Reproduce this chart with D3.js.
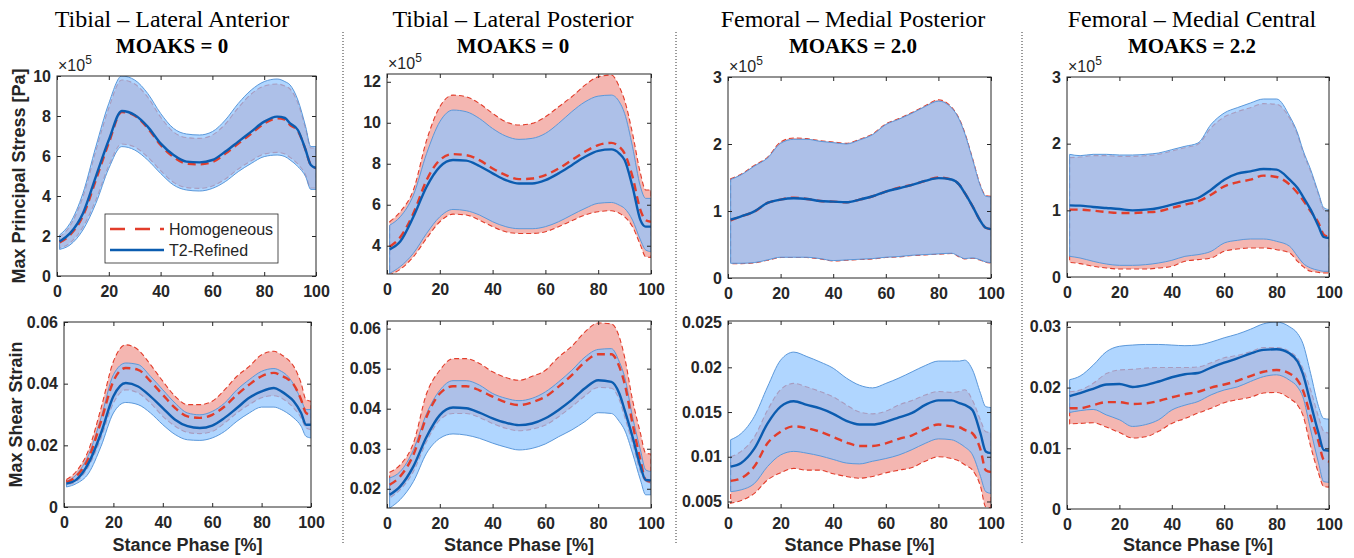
<!DOCTYPE html>
<html>
<head>
<meta charset="utf-8">
<script src="https://cdnjs.cloudflare.com/ajax/libs/d3/7.8.5/d3.min.js"></script>
<style>
  body { margin: 0; background: #fff; }
  svg text { font-family: "Liberation Sans", Arial, sans-serif; }
</style>
</head>
<body>
<svg id="fig" width="1354" height="558"></svg>
<script>
// stance phase sample points [%]
var stance = [1, 5, 10, 15, 20, 25, 30, 35, 40, 45, 50, 55, 60, 65, 70, 75, 80, 85, 88, 90, 93, 96, 98, 100];

// ---- Tibial lateral anterior : max principal stress (x1e5 Pa)
var tlaStressHomLo  = [1.4,1.65,2.45,3.8,5.52,6.6,6.45,5.95,5.27,4.68,4.42,4.38,4.5,4.85,5.35,5.76,6.1,6.18,6.1,5.93,5.6,5.05,4.4,4.4];
var tlaStressHomMean= [1.68,2.05,3.0,4.8,6.65,8.2,8.02,7.4,6.55,5.95,5.62,5.58,5.7,6.12,6.62,7.12,7.62,7.88,7.82,7.55,7.25,6.3,5.55,5.4];
var tlaStressHomHi  = [1.95,2.5,3.95,6.25,8.4,9.8,9.6,8.95,7.95,7.2,6.92,6.88,7.05,7.6,8.42,9.1,9.5,9.6,9.5,9.35,8.65,7.35,6.4,6.4];
var tlaStressT2Lo   = [1.33,1.55,2.3,3.63,5.38,6.47,6.3,5.8,5.13,4.55,4.3,4.25,4.38,4.72,5.22,5.63,5.97,6.05,5.97,5.8,5.47,4.97,4.33,4.33];
var tlaStressT2Mean = [1.72,2.13,3.13,4.97,6.8,8.25,8.05,7.47,6.63,6.05,5.72,5.68,5.8,6.22,6.72,7.22,7.72,7.97,7.9,7.63,7.3,6.3,5.55,5.4];
var tlaStressT2Hi   = [2.05,2.63,4.13,6.47,8.63,10.0,9.8,9.13,8.13,7.38,7.1,7.05,7.22,7.8,8.63,9.3,9.72,9.85,9.72,9.55,8.8,7.47,6.47,6.47];

// ---- Tibial lateral posterior : stress
var tlpStressHomLo  = [2.57,2.85,3.46,4.36,5.17,5.54,5.5,5.25,4.93,4.68,4.6,4.6,4.68,4.93,5.22,5.5,5.66,5.71,5.58,5.41,4.93,4.03,3.46,3.43];
var tlpStressHomMean= [3.95,4.41,5.58,7.2,8.18,8.47,8.42,8.18,7.77,7.45,7.25,7.28,7.45,7.77,8.18,8.59,8.91,9.02,8.83,8.5,7.37,5.74,5.25,5.17];
var tlpStressHomHi  = [5.17,5.66,6.72,9.15,10.78,11.35,11.27,10.94,10.46,10.05,9.89,9.97,10.29,10.78,11.27,11.84,12.24,12.33,11.76,11.1,9.48,7.53,6.72,6.72];
var tlpStressT2Lo   = [2.65,2.98,3.63,4.6,5.41,5.77,5.71,5.5,5.17,4.93,4.83,4.83,4.93,5.17,5.5,5.82,6.07,6.11,5.98,5.82,5.25,4.28,3.79,3.71];
var tlpStressT2Mean = [3.82,4.2,5.41,6.88,7.85,8.18,8.15,7.89,7.53,7.2,7.04,7.04,7.2,7.53,7.93,8.34,8.63,8.7,8.5,8.18,6.88,5.25,4.93,4.93];
var tlpStressT2Hi   = [5.0,5.41,6.47,8.5,10.05,10.62,10.54,10.21,9.72,9.35,9.19,9.24,9.48,9.97,10.54,11.02,11.3,11.35,11.02,10.46,8.83,6.88,6.31,6.31];

// ---- Femoral medial posterior : stress
var fmpStressHomLo  = [.215,.215,.225,.265,.305,.305,.305,.285,.255,.265,.275,.285,.305,.315,.335,.345,.355,.365,.315,.285,.295,.265,.235,.225];
var fmpStressHomMean= [.86,.92,.99,1.12,1.17,1.2,1.18,1.15,1.14,1.13,1.17,1.22,1.29,1.35,1.39,1.45,1.5,1.47,1.39,1.27,1.07,.85,.75,.73];
var fmpStressHomHi  = [1.48,1.55,1.68,1.8,2.03,2.09,2.08,2.05,2.03,2.01,2.07,2.15,2.3,2.38,2.47,2.57,2.66,2.55,2.37,2.17,1.78,1.38,1.23,1.22];
var fmpStressT2Lo   = [.22,.22,.23,.27,.31,.31,.31,.29,.26,.27,.28,.29,.31,.32,.34,.35,.36,.37,.32,.29,.3,.27,.24,.23];
var fmpStressT2Mean = [.87,.92,.995,1.12,1.17,1.19,1.18,1.15,1.14,1.13,1.17,1.22,1.29,1.34,1.39,1.45,1.49,1.47,1.39,1.27,1.07,.85,.75,.73];
var fmpStressT2Hi   = [1.47,1.54,1.67,1.79,2.01,2.07,2.07,2.04,2.02,2.0,2.06,2.14,2.29,2.37,2.46,2.56,2.64,2.54,2.36,2.16,1.77,1.37,1.22,1.21];

// ---- Femoral medial central : stress
var fmcStressHomLo  = [.22,.2,.16,.135,.12,.12,.12,.135,.16,.235,.26,.285,.385,.42,.435,.435,.41,.36,.235,.16,.085,.07,.06,.06];
var fmcStressHomMean= [1.01,1.01,.995,.975,.96,.96,.97,.985,1.035,1.085,1.135,1.235,1.36,1.42,1.46,1.52,1.5,1.385,1.26,1.16,.985,.81,.635,.6];
var fmcStressHomHi  = [1.79,1.8,1.82,1.82,1.81,1.81,1.82,1.84,1.89,1.94,1.99,2.24,2.4,2.48,2.54,2.6,2.59,2.38,2.13,1.88,1.58,1.23,1.01,.98];
var fmcStressT2Lo   = [.31,.285,.235,.195,.175,.175,.185,.21,.25,.31,.335,.385,.51,.55,.57,.57,.535,.46,.31,.21,.135,.1,.085,.085];
var fmcStressT2Mean = [1.075,1.07,1.05,1.035,1.02,1.0,1.01,1.035,1.085,1.135,1.185,1.31,1.46,1.55,1.585,1.62,1.61,1.46,1.335,1.21,1.01,.76,.6,.585];
var fmcStressT2Hi   = [1.84,1.82,1.84,1.84,1.83,1.83,1.84,1.86,1.91,1.96,2.01,2.29,2.46,2.54,2.61,2.67,2.67,2.41,2.16,1.91,1.61,1.26,1.04,1.01];

// ---- max shear strain
var tlaStrainHomLo  = [.0072,.0083,.0132,.0224,.0337,.038,.037,.0337,.0294,.0262,.0242,.0238,.0245,.0272,.0305,.0332,.0354,.0361,.0354,.0343,.0321,.0289,.0256,.0251];
var tlaStrainHomMean= [.008,.01,.0159,.0278,.0408,.0451,.0445,.0408,.0364,.0321,.0294,.0289,.0299,.0326,.0364,.0397,.0424,.0435,.0426,.0418,.0397,.0348,.0305,.0299];
var tlaStrainHomHi  = [.0089,.0116,.0186,.0321,.0472,.0526,.051,.0462,.0408,.0359,.0332,.0332,.0343,.038,.0424,.0456,.0494,.0505,.0494,.0483,.0456,.0402,.0348,.0343];
var tlaStrainT2Lo   = [.0065,.0076,.011,.0197,.0305,.0339,.0332,.0305,.0267,.0235,.0218,.0216,.0224,.0245,.0278,.0305,.0324,.0324,.0316,.0307,.0289,.0262,.0229,.0224];
var tlaStrainT2Mean = [.0076,.0089,.0143,.024,.0359,.0402,.0391,.0359,.0321,.0283,.0262,.0256,.0264,.0289,.0321,.0354,.0375,.0386,.0375,.0364,.0343,.0305,.0267,.0267];
var tlaStrainT2Hi   = [.0083,.0105,.017,.0289,.0429,.0467,.0462,.0424,.038,.0337,.0305,.0299,.031,.0337,.038,.0413,.044,.0449,.044,.0429,.0397,.0348,.0316,.0316];

var tlpStrainHomLo  = [.0177,.0198,.0243,.0318,.0372,.0388,.0388,.0378,.0363,.0351,.0345,.0349,.0359,.038,.0405,.0432,.0453,.0451,.0422,.038,.0314,.0243,.0218,.0214];
var tlpStrainHomMean= [.021,.0231,.0285,.038,.0438,.0456,.0456,.0446,.043,.0416,.0409,.0416,.043,.0455,.0484,.0517,.0536,.0536,.0505,.0463,.0363,.0272,.0222,.0218];
var tlpStrainHomHi  = [.0241,.026,.0314,.0438,.0496,.0525,.0525,.0513,.0492,.0478,.0471,.0481,.0496,.0529,.0556,.0592,.0614,.0612,.0579,.0529,.0422,.0339,.0289,.0287];
var tlpStrainT2Lo   = [.0152,.0173,.0218,.0289,.0326,.0337,.0334,.0326,.0314,.0304,.0297,.0301,.0312,.033,.0347,.0368,.039,.0388,.0368,.0347,.0289,.0222,.0185,.0185];
var tlpStrainT2Mean = [.0185,.0206,.0256,.033,.0384,.0403,.0401,.039,.0376,.0365,.0359,.0363,.0376,.0397,.0422,.0451,.0471,.0467,.0438,.0397,.033,.0256,.0222,.0221];
var tlpStrainT2Hi   = [.0227,.0243,.0297,.0388,.0446,.047,.047,.0459,.0438,.0426,.042,.0426,.0442,.0467,.0496,.0529,.0548,.055,.0517,.048,.038,.0297,.0247,.0243];

var fmpStrainHomLo  = [.0048,.0051,.0059,.0074,.0082,.0087,.0085,.0085,.0081,.0078,.0076,.0078,.0082,.0085,.0088,.0095,.01,.0098,.0095,.0091,.0085,.0067,.0044,.0043];
var fmpStrainHomMean= [.0073,.0076,.0089,.0115,.0128,.0134,.0132,.0128,.0122,.0116,.0112,.0112,.0115,.012,.0124,.0131,.0136,.0134,.0133,.013,.0126,.0108,.0085,.0083];
var fmpStrainHomHi  = [.01,.0106,.0122,.0152,.0175,.0182,.0178,.0173,.0167,.0158,.015,.0148,.0151,.0158,.0163,.0169,.0173,.0172,.0173,.0175,.0163,.0141,.0128,.0127];
var fmpStrainT2Lo   = [.0061,.0063,.007,.0089,.0102,.0106,.0104,.0101,.0097,.0093,.0092,.0095,.0098,.0102,.0108,.0115,.012,.0119,.0115,.0111,.0102,.0078,.0061,.0059];
var fmpStrainT2Mean = [.0089,.0093,.0109,.0137,.0156,.0162,.0158,.0154,.0148,.014,.0136,.0136,.0139,.0144,.0149,.0158,.0163,.0163,.016,.0158,.0152,.0126,.0106,.0104];
var fmpStrainT2Hi   = [.0119,.0126,.0145,.0178,.0208,.0217,.0212,.0206,.0199,.0188,.018,.0177,.0182,.0188,.0195,.0202,.0207,.0207,.0207,.0208,.0197,.0171,.0156,.0155];

var fmcStrainHomLo  = [.014,.0141,.0142,.0135,.0126,.0117,.0119,.0128,.0141,.0149,.0158,.0166,.0175,.018,.0184,.0191,.0192,.0182,.0171,.0155,.0103,.0059,.0037,.0036];
var fmcStrainHomMean= [.0166,.0166,.0171,.0176,.0176,.0173,.0174,.0178,.0184,.0189,.0193,.02,.0205,.0211,.0219,.0226,.0229,.0223,.0212,.0196,.0152,.0111,.0081,.0078];
var fmcStrainHomHi  = [.0193,.0196,.0207,.0223,.0229,.023,.0232,.0233,.0233,.0233,.0234,.0241,.0249,.0253,.0259,.0266,.0266,.0259,.0248,.0232,.0196,.0152,.0128,.0125];
var fmcStrainT2Lo   = [.0159,.0162,.0164,.0155,.0147,.0136,.0139,.0147,.0163,.0171,.0177,.0188,.0196,.0201,.021,.0218,.0221,.0212,.0201,.0185,.013,.0076,.0045,.0044];
var fmcStrainT2Mean = [.0186,.0191,.0198,.0205,.0206,.0201,.0204,.021,.0217,.0222,.0224,.0233,.0241,.0248,.0256,.0262,.0263,.0256,.0243,.0223,.0174,.0125,.0097,.0096];
var fmcStrainT2Hi   = [.0213,.0219,.0237,.0259,.0268,.027,.0271,.0271,.027,.0269,.027,.0275,.0282,.0288,.0296,.0305,.0308,.03,.0289,.0273,.0223,.0169,.0149,.0148];

// titles, ticks, axis limits
var regionTitles = ["Tibial \u2013 Lateral Anterior", "Tibial \u2013 Lateral Posterior", "Femoral \u2013 Medial Posterior", "Femoral \u2013 Medial Central"];
var moaksLabels = ["MOAKS = 0", "MOAKS = 0", "MOAKS = 2.0", "MOAKS = 2.2"];
var xTicks = [0, 20, 40, 60, 80, 100];
var stressTicks = [[0, 2, 4, 6, 8, 10], [4, 6, 8, 10, 12], [0, 1, 2, 3], [0, 1, 2, 3]];
var strainTicks = [[0, 0.02, 0.04, 0.06], [0.02, 0.03, 0.04, 0.05, 0.06], [0.005, 0.01, 0.015, 0.02, 0.025], [0, 0.01, 0.02, 0.03]];
var stressLimits = [[0, 10], [2.62, 12.38], [0, 3], [0, 3]];
var strainLimits = [[0, 0.06], [0.0152, 0.0619], [0.00427, 0.02518], [0, 0.0308]];
var seriesNames = ["Homogeneous", "T2-Refined"];

// axes frames in the figure (pixels)
var topBoxes = [
  {x0: 57, x1: 316, y0: 76, y1: 276},
  {x0: 387, x1: 651, y0: 74, y1: 274},
  {x0: 728, x1: 991, y0: 77, y1: 278},
  {x0: 1067, x1: 1329, y0: 77, y1: 277}
];
var bottomBoxes = [
  {x0: 64, x1: 311, y0: 322, y1: 507},
  {x0: 387, x1: 651, y0: 321, y1: 508},
  {x0: 728, x1: 991, y0: 321, y1: 508},
  {x0: 1067, x1: 1329, y0: 322, y1: 509}
];
var titleCenters = [172, 513, 853, 1192];
var separatorX = [343, 676, 1022];

var ink = "#262626";
var redFill = "#f4b6b1", redLine = "#e23d2b";
var blueFill = "rgb(142,196,255)", blueEdge = "#5b98da", blueLine = "#0b5cb0";

var svg = d3.select("#fig");

function styleAxis(g, size) {
  g.select(".domain").remove();
  g.selectAll("line").attr("stroke", ink).attr("stroke-width", 1);
  g.selectAll("text")
    .attr("font-size", size)
    .attr("font-weight", "bold")
    .attr("fill", ink)
    .attr("font-family", "'Liberation Sans', Arial, sans-serif");
}

function drawPanel(id, box, limits, yTicks, hom, t2) {
  var x = d3.scaleLinear().domain([0, 100]).range([box.x0, box.x1]);
  var y = d3.scaleLinear().domain(limits).range([box.y1, box.y0]);

  var rows = stance.map(function(s, i) {
    return {s: s, hl: hom[0][i], hm: hom[1][i], hh: hom[2][i], tl: t2[0][i], tm: t2[1][i], th: t2[2][i]};
  });

  svg.append("clipPath").attr("id", "clip" + id)
    .append("rect")
    .attr("x", box.x0).attr("y", box.y0)
    .attr("width", box.x1 - box.x0).attr("height", box.y1 - box.y0);

  var g = svg.append("g").attr("clip-path", "url(#clip" + id + ")");
  var curve = d3.curveMonotoneX;

  function band(lo, hi) {
    return d3.area().x(function(d) { return x(d.s); })
      .y0(function(d) { return y(d[lo]); })
      .y1(function(d) { return y(d[hi]); })
      .curve(curve);
  }
  function mean(k) {
    return d3.line().x(function(d) { return x(d.s); })
      .y(function(d) { return y(d[k]); })
      .curve(curve);
  }

  // homogeneous band
  g.append("path").datum(rows)
    .attr("d", band("hl", "hh"))
    .attr("fill", redFill)
    .attr("stroke", redLine)
    .attr("stroke-width", 1.1)
    .attr("stroke-dasharray", "5,3");

  // T2 band, semi transparent over it
  g.append("path").datum(rows)
    .attr("d", band("tl", "th"))
    .attr("fill", blueFill)
    .attr("fill-opacity", 0.7)
    .attr("stroke", blueEdge)
    .attr("stroke-width", 1);

  g.append("path").datum(rows)
    .attr("d", mean("hm"))
    .attr("fill", "none")
    .attr("stroke", redLine)
    .attr("stroke-width", 2.4)
    .attr("stroke-dasharray", "8,5");

  g.append("path").datum(rows)
    .attr("d", mean("tm"))
    .attr("fill", "none")
    .attr("stroke", blueLine)
    .attr("stroke-width", 2.4);

  // box + ticks (MATLAB style, inward, mirrored)
  svg.append("rect")
    .attr("x", box.x0).attr("y", box.y0)
    .attr("width", box.x1 - box.x0).attr("height", box.y1 - box.y0)
    .attr("fill", "none").attr("stroke", ink).attr("stroke-width", 1);

  svg.append("g").attr("transform", "translate(0," + box.y1 + ")")
    .call(d3.axisBottom(x).tickValues(xTicks).tickSizeInner(-4).tickSizeOuter(0).tickPadding(10))
    .call(styleAxis, 16);
  svg.append("g").attr("transform", "translate(0," + box.y0 + ")")
    .call(d3.axisTop(x).tickValues(xTicks).tickSizeInner(-4).tickSizeOuter(0).tickFormat(""))
    .call(styleAxis, 16);
  svg.append("g").attr("transform", "translate(" + box.x0 + ",0)")
    .call(d3.axisLeft(y).tickValues(yTicks).tickSizeInner(-4).tickSizeOuter(0).tickPadding(6).tickFormat(function(v) { return String(v); }))
    .call(styleAxis, 16);
  svg.append("g").attr("transform", "translate(" + box.x1 + ",0)")
    .call(d3.axisRight(y).tickValues(yTicks).tickSizeInner(-4).tickSizeOuter(0).tickFormat(""))
    .call(styleAxis, 16);
}

var stressSets = [
  [[tlaStressHomLo, tlaStressHomMean, tlaStressHomHi], [tlaStressT2Lo, tlaStressT2Mean, tlaStressT2Hi]],
  [[tlpStressHomLo, tlpStressHomMean, tlpStressHomHi], [tlpStressT2Lo, tlpStressT2Mean, tlpStressT2Hi]],
  [[fmpStressHomLo, fmpStressHomMean, fmpStressHomHi], [fmpStressT2Lo, fmpStressT2Mean, fmpStressT2Hi]],
  [[fmcStressHomLo, fmcStressHomMean, fmcStressHomHi], [fmcStressT2Lo, fmcStressT2Mean, fmcStressT2Hi]]
];
var strainSets = [
  [[tlaStrainHomLo, tlaStrainHomMean, tlaStrainHomHi], [tlaStrainT2Lo, tlaStrainT2Mean, tlaStrainT2Hi]],
  [[tlpStrainHomLo, tlpStrainHomMean, tlpStrainHomHi], [tlpStrainT2Lo, tlpStrainT2Mean, tlpStrainT2Hi]],
  [[fmpStrainHomLo, fmpStrainHomMean, fmpStrainHomHi], [fmpStrainT2Lo, fmpStrainT2Mean, fmpStrainT2Hi]],
  [[fmcStrainHomLo, fmcStrainHomMean, fmcStrainHomHi], [fmcStrainT2Lo, fmcStrainT2Mean, fmcStrainT2Hi]]
];

for (var i = 0; i < 4; i++) {
  drawPanel("s" + i, topBoxes[i], stressLimits[i], stressTicks[i], stressSets[i][0], stressSets[i][1]);
  drawPanel("e" + i, bottomBoxes[i], strainLimits[i], strainTicks[i], strainSets[i][0], strainSets[i][1]);

  // exponent label
  var ex = svg.append("text")
    .attr("x", topBoxes[i].x0 + 1).attr("y", topBoxes[i].y0 - 5)
    .attr("font-size", 16).attr("fill", ink);
  ex.append("tspan").text("\u00d710");
  ex.append("tspan").attr("font-size", 12).attr("dy", -7).text("5");

  // titles
  svg.append("text")
    .attr("x", titleCenters[i]).attr("y", 27)
    .attr("text-anchor", "middle")
    .style("font-family", "'Liberation Serif', 'Times New Roman', serif")
    .attr("font-size", 24).attr("fill", "#000")
    .text(regionTitles[i]);
  svg.append("text")
    .attr("x", titleCenters[i]).attr("y", 53)
    .attr("text-anchor", "middle")
    .style("font-family", "'Liberation Serif', 'Times New Roman', serif")
    .attr("font-size", 21).attr("font-weight", "bold").attr("fill", "#000")
    .text(moaksLabels[i]);

  // x label
  var bb = bottomBoxes[i];
  svg.append("text")
    .attr("x", (bb.x0 + bb.x1) / 2).attr("y", 551)
    .attr("text-anchor", "middle")
    .attr("font-size", 18).attr("font-weight", "bold").attr("fill", ink)
    .text("Stance Phase [%]");
}

// y labels
svg.append("text")
  .attr("transform", "translate(25," + (topBoxes[0].y0 + topBoxes[0].y1) / 2 + ") rotate(-90)")
  .attr("text-anchor", "middle")
  .attr("font-size", 18).attr("font-weight", "bold").attr("fill", ink)
  .text("Max Principal Stress [Pa]");
svg.append("text")
  .attr("transform", "translate(22," + (bottomBoxes[0].y0 + bottomBoxes[0].y1) / 2 + ") rotate(-90)")
  .attr("text-anchor", "middle")
  .attr("font-size", 18).attr("font-weight", "bold").attr("fill", ink)
  .text("Max Shear Strain");

// separators between columns
separatorX.forEach(function(sx) {
  svg.append("line")
    .attr("x1", sx).attr("x2", sx).attr("y1", 32).attr("y2", 545)
    .attr("stroke", "#333").attr("stroke-width", 1)
    .attr("stroke-dasharray", "1,2");
});

// legend
var lg = svg.append("g");
lg.append("rect")
  .attr("x", 105).attr("y", 214).attr("width", 173).attr("height", 49)
  .attr("fill", "#fff").attr("stroke", ink).attr("stroke-width", 0.8);
var legendColors = [redLine, blueLine];
var legendDash = ["15,10", null];
seriesNames.forEach(function(name, k) {
  var ly = 229 + k * 21;
  lg.append("line")
    .attr("x1", 110).attr("x2", 164).attr("y1", ly).attr("y2", ly)
    .attr("stroke", legendColors[k]).attr("stroke-width", 2.6)
    .attr("stroke-dasharray", legendDash[k]);
  lg.append("text")
    .attr("x", 169).attr("y", ly).attr("dy", "0.36em")
    .attr("font-size", 16).attr("fill", ink)
    .text(name);
});
</script>
</body>
</html>
